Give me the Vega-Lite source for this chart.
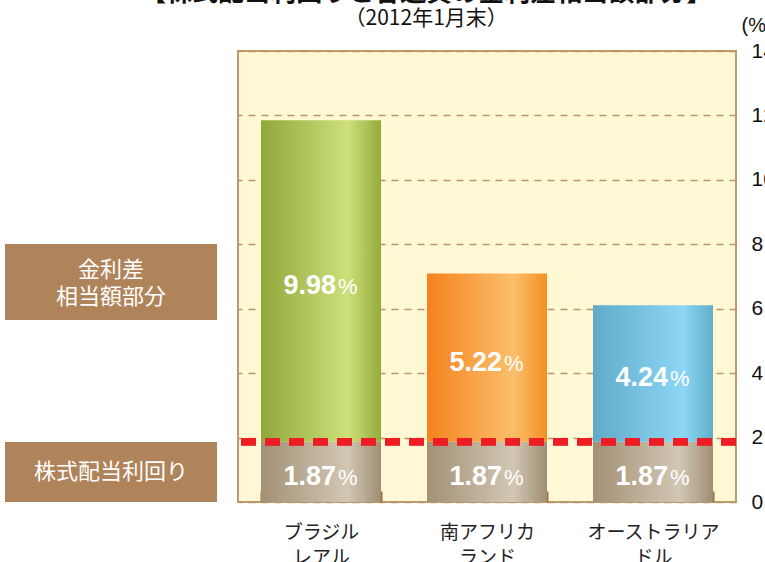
{
  "$schema": "https://vega.github.io/schema/vega-lite/v6.json",
  "padding": {"left": 5, "top": -20, "right": 0, "bottom": 0},
  "background": "white",
  "title": {
    "text": "【株式配当利回りと各通貨の金利差相当額部分】",
    "subtitle": "（2012年1月末）",
    "anchor": "middle",
    "dx": 36,
    "font": "Noto Sans CJK JP",
    "fontSize": 26,
    "fontWeight": "bold",
    "color": "#111111",
    "subtitleFont": "Noto Sans CJK JP",
    "subtitleFontSize": 21,
    "subtitleColor": "#111111",
    "subtitlePadding": 2,
    "offset": -15
  },
  "config": {
    "view": {"stroke": null},
    "font": "Liberation Sans"
  },
  "spacing": 16,
  "hconcat": [
    {
      "width": 212,
      "height": 451,
      "data": {"values": [
        {"label": "金利差\n相当額部分", "lo": 5.65, "hi": 8.01},
        {"label": "株式配当利回り", "lo": 0, "hi": 1.86}
      ]},
      "transform": [{"calculate": "(datum.lo + datum.hi) / 2", "as": "mid"}],
      "layer": [
        {
          "mark": {"type": "rect", "color": "#b0845a"},
          "encoding": {
            "y": {"field": "lo", "type": "quantitative", "scale": {"domain": [0, 14], "nice": false}, "axis": null},
            "y2": {"field": "hi"}
          }
        },
        {
          "transform": [{"filter": "indexof(datum.label, '\\n') >= 0"}],
          "mark": {"type": "text", "color": "white", "font": "Noto Sans CJK JP", "fontSize": 22, "lineBreak": "\n", "lineHeight": 27, "baseline": "middle", "align": "center", "dy": -12},
          "encoding": {
            "y": {"field": "mid", "type": "quantitative"},
            "text": {"field": "label"}
          }
        },
        {
          "transform": [{"filter": "indexof(datum.label, '\\n') < 0"}],
          "mark": {"type": "text", "color": "white", "font": "Noto Sans CJK JP", "fontSize": 22, "baseline": "middle", "align": "center"},
          "encoding": {
            "y": {"field": "mid", "type": "quantitative"},
            "text": {"field": "label"}
          }
        }
      ]
    },
    {
      "width": 498,
      "height": 451,
      "view": {"fill": "#fff8d4", "stroke": "#bf9a6c", "strokeWidth": 2},
      "data": {"values": [
        {"currency": "ブラジル レアル", "part": "株式配当利回り", "order": 1, "value": 1.87},
        {"currency": "ブラジル レアル", "part": "金利差相当額部分", "order": 2, "value": 9.98},
        {"currency": "南アフリカ ランド", "part": "株式配当利回り", "order": 1, "value": 1.87},
        {"currency": "南アフリカ ランド", "part": "金利差相当額部分", "order": 2, "value": 5.22},
        {"currency": "オーストラリア ドル", "part": "株式配当利回り", "order": 1, "value": 1.87},
        {"currency": "オーストラリア ドル", "part": "金利差相当額部分", "order": 2, "value": 4.24}
      ]},
      "transform": [
        {"stack": "value", "groupby": ["currency"], "sort": [{"field": "order", "order": "ascending"}], "as": ["v0", "v1"]},
        {"calculate": "(datum.v0 + datum.v1) / 2", "as": "mid"}
      ],
      "layer": [
        {
          "transform": [{"filter": "datum.order == 1"}],
          "mark": {"type": "bar", "fill": {"gradient": "linear", "x1": 0, "y1": 0, "x2": 1, "y2": 0, "stops": [
            {"offset": 0, "color": "#a39076"}, {"offset": 0.72, "color": "#d1c7b3"}, {"offset": 1, "color": "#a08e74"}]}},
          "encoding": {
            "x": {
              "field": "currency", "type": "nominal", "sort": null,
              "scale": {"paddingInner": 0.277, "paddingOuter": 0.1385},
              "axis": {
                "title": null, "domain": false, "labelAngle": 0,
                "labelExpr": "split(datum.label, ' ')",
                "labelFont": "Noto Sans CJK JP", "labelFontSize": 19, "labelColor": "#222222",
                "labelLineHeight": 25, "labelPadding": 32,
                "ticks": true, "tickBand": "extent", "tickSize": -11, "tickWidth": 2, "tickColor": "#a0703a"
              }
            },
            "y": {"field": "v0", "type": "quantitative", "scale": {"domain": [0, 14], "nice": false},
              "axis": {
                "orient": "right", "title": "(%)", "titleAngle": 0, "titleAlign": "left", "titleBaseline": "alphabetic",
                "titleX": 5, "titleY": -20, "titleFont": "Liberation Sans", "titleFontSize": 20, "titleFontWeight": "normal", "titleColor": "#111111",
                "values": [0, 2, 4, 6, 8, 10, 12, 14],
                "domain": false, "ticks": false, "labelFont": "Liberation Sans", "labelFontSize": 21, "labelColor": "#111111", "labelPadding": 15,
                "grid": true, "gridColor": "#b8966c", "gridDash": [7, 6], "gridWidth": 1.5
              }},
            "y2": {"field": "v1"}
          }
        },
        {
          "transform": [{"filter": "datum.order == 2 && datum.currency == 'ブラジル レアル'"}],
          "mark": {"type": "bar", "fill": {"gradient": "linear", "x1": 0, "y1": 0, "x2": 1, "y2": 0, "stops": [
            {"offset": 0, "color": "#8fa83a"}, {"offset": 0.72, "color": "#cde07a"}, {"offset": 1, "color": "#95ac3c"}]}},
          "encoding": {"x": {"field": "currency", "type": "nominal", "sort": null}, "y": {"field": "v0", "type": "quantitative"}, "y2": {"field": "v1"}}
        },
        {
          "transform": [{"filter": "datum.order == 2 && datum.currency == '南アフリカ ランド'"}],
          "mark": {"type": "bar", "fill": {"gradient": "linear", "x1": 0, "y1": 0, "x2": 1, "y2": 0, "stops": [
            {"offset": 0, "color": "#f5821e"}, {"offset": 0.72, "color": "#fbbf6b"}, {"offset": 1, "color": "#f39022"}]}},
          "encoding": {"x": {"field": "currency", "type": "nominal", "sort": null}, "y": {"field": "v0", "type": "quantitative"}, "y2": {"field": "v1"}}
        },
        {
          "transform": [{"filter": "datum.order == 2 && datum.currency == 'オーストラリア ドル'"}],
          "mark": {"type": "bar", "fill": {"gradient": "linear", "x1": 0, "y1": 0, "x2": 1, "y2": 0, "stops": [
            {"offset": 0, "color": "#5eabc8"}, {"offset": 0.75, "color": "#8dd6f5"}, {"offset": 1, "color": "#60afca"}]}},
          "encoding": {"x": {"field": "currency", "type": "nominal", "sort": null}, "y": {"field": "v0", "type": "quantitative"}, "y2": {"field": "v1"}}
        },
        {
          "mark": {"type": "rule", "color": "#ee1c25", "strokeWidth": 7, "strokeDash": [15, 9]},
          "encoding": {"y": {"datum": 1.87, "type": "quantitative"}}
        },
        {
          "mark": {"type": "text", "color": "white", "font": "Liberation Sans", "fontWeight": "bold", "fontSize": 27, "align": "right", "baseline": "alphabetic", "dx": 15, "dy": 13},
          "encoding": {
            "x": {"field": "currency", "type": "nominal", "sort": null},
            "y": {"field": "mid", "type": "quantitative"},
            "text": {"field": "value", "type": "quantitative", "format": ".2f"}
          }
        },
        {
          "mark": {"type": "text", "color": "white", "font": "Liberation Sans", "fontSize": 22, "align": "left", "baseline": "alphabetic", "dx": 17, "dy": 13, "text": "%"},
          "encoding": {
            "x": {"field": "currency", "type": "nominal", "sort": null},
            "y": {"field": "mid", "type": "quantitative"}
          }
        }
      ]
    }
  ]
}
